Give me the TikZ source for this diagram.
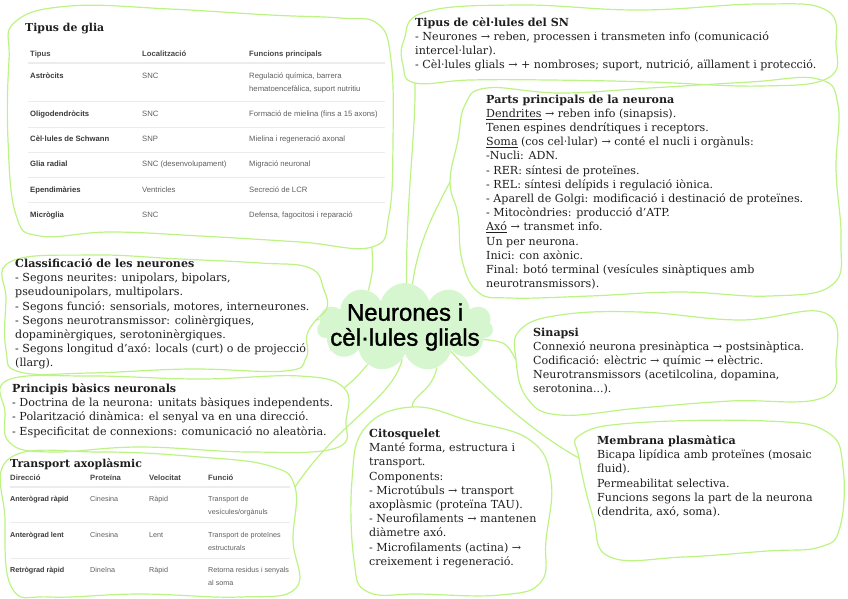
\documentclass[tikz,border=0pt]{standalone}
\usepackage{fontspec}
\setmainfont{DejaVu Serif}
\newfontfamily\tablefont{Liberation Sans}
\newfontfamily\centrefont{Liberation Sans}[FakeBold=1.3]
\usetikzlibrary{shapes.symbols}

\definecolor{blobgreen}{RGB}{188,243,132}
\definecolor{cloudgreen}{RGB}{214,246,208}
\definecolor{inkgray}{RGB}{30,30,30}
\definecolor{cellgray}{RGB}{95,95,95}
\definecolor{headgray}{RGB}{70,70,70}
\definecolor{rulegray}{RGB}{236,236,236}

\begin{document}
\begin{tikzpicture}[x=1pt,y=-1pt,
    blob/.style={draw=blobgreen, line width=1.2pt, line join=round},
    link/.style={draw=blobgreen, line width=1.2pt},
    % multi-line nodes sit on the baseline of their last line
    panel/.style={anchor=base west, inner sep=0pt, align=left, text=inkgray,
      font=\fontsize{11.1}{14.2}\selectfont},
    tabtitle/.style={anchor=base west, inner sep=0pt, text=inkgray,
      font=\bfseries\fontsize{10.9}{13}\selectfont},
    tabhead/.style={anchor=base west, inner sep=0pt, text=headgray,
      font=\tablefont\bfseries\fontsize{7.7}{13}\selectfont},
    rowhead/.style={anchor=base west, inner sep=0pt, text=headgray!80!black,
      font=\tablefont\bfseries\fontsize{7.7}{13}\selectfont},
    cell/.style={anchor=base west, inner sep=0pt, align=left, text=cellgray,
      font=\tablefont\fontsize{7.7}{13}\selectfont},
    headrule/.style={draw=rulegray, line width=1.6pt},
    rowrule/.style={draw=rulegray, line width=0.6pt}
  ]
\useasboundingbox (0,0) rectangle (848,598);

% central idea
\node[cloud, cloud puffs=11, cloud ignores aspect, fill=cloudgreen,
  minimum width=176pt, minimum height=88pt, inner sep=0pt] (centre) at (405,327) {};
\node[align=center, inner sep=0pt, font=\centrefont\fontsize{24}{25}\selectfont]
  (title) at (405,327) {Neurones i\\cèl·lules glials};

% ends of the connectors on the blobs
\coordinate (glia-end) at (372,247);
\coordinate (sn-end) at (415,83);
\coordinate (parts-end) at (450,182);
\coordinate (classif-end) at (316,320);
\coordinate (principis-end) at (344,388);
\coordinate (transport-end) at (295,487);
\coordinate (cito-end) at (412,407);
\coordinate (sinapsi-end) at (516,360);
\coordinate (membrana-end) at (579,458);

% blobs
\draw[blob] plot[smooth cycle, tension=0.7] coordinates {(15,22) (70,6) (170,9) (270,15)
  (340,18) (378,24) (391,60) (393,140) (389,215) (glia-end) (300,242) (200,236)
  (110,232) (40,236) (16,215) (8,140) (9,60)};
\draw[blob] plot[smooth cycle, tension=0.7] coordinates {(404,40) (425,12) (520,5)
  (640,10) (760,4) (826,10) (836,45) (828,78) (760,86) (650,82) (550,80) (470,80)
  (sn-end) (403,65)};
\draw[blob] plot[smooth cycle, tension=0.7] coordinates {(487,88) (560,93) (650,88)
  (750,82) (818,79) (838,105) (836,170) (841,240) (832,285) (770,296) (680,292)
  (590,296) (510,298) (478,292) (462,260) (458,215) (parts-end) (458,140) (465,105)};
\draw[blob] plot[smooth cycle, tension=0.7] coordinates {(10,262) (90,255) (180,259)
  (260,263) (310,268) (324,290) (327,308) (classif-end) (307,335) (306,358) (285,371)
  (190,369) (90,373) (20,372) (6,350) (6,300)};
\draw[blob] plot[smooth cycle, tension=0.7] coordinates {(8,380) (90,376) (200,379)
  (300,376) (principis-end) (346,420) (336,448) (250,452) (140,447) (50,452) (10,443)
  (5,412)};
\draw[blob] plot[smooth cycle, tension=0.7] coordinates {(10,458) (100,452) (200,457)
  (270,466) (transport-end) (293,540) (296,588) (240,597) (140,594) (50,597) (12,588)
  (5,520)};
\draw[blob] plot[smooth cycle, tension=0.7] coordinates {(365,428) (cito-end) (470,421)
  (530,440) (551,480) (546,540) (541,582) (500,595) (420,594) (368,592) (354,560)
  (352,480)};
\draw[blob] plot[smooth cycle, tension=0.7] coordinates {(520,330) (560,315) (640,312)
  (740,320) (825,313) (836,360) (822,398) (730,401) (640,408) (560,415) (527,398)
  (sinapsi-end)};
\draw[blob] plot[smooth cycle, tension=0.7] coordinates {(580,435) (633,423) (767,421)
  (827,432) (843,467) (840,527) (820,547) (767,551) (683,557) (610,557) (593,517)
  (membrana-end)};

% connectors
\draw[link] (centre.135) .. controls (373,270) .. (glia-end);
\draw[link] (centre.88) .. controls (406,200) and (416,130) .. (sn-end);
\draw[link] (centre.80) .. controls (418,240) and (438,205) .. (parts-end);
\draw[link] (centre.175) -- (classif-end);
\draw[link] (centre.225) .. controls (356,378) .. (principis-end);
\draw[link] (centre.265) .. controls (392,400) and (340,420) .. (transport-end);
\draw[link] (centre.308) .. controls (432,392) and (412,395) .. (cito-end);
\draw[link] (centre.351) .. controls (506,342) .. (sinapsi-end);
\draw[link] (centre.332) .. controls (495,400) and (545,440) .. (membrana-end);

% Tipus de glia
\node[tabtitle] (glia) at (25,31) {Tipus de glia};
\node[tabhead] (glia-h1) at (30,56) {Tipus};
\node[tabhead] (glia-h2) at (142,56) {Localització};
\node[tabhead] (glia-h3) at (249,56) {Funcions principals};
\draw[headrule] (28,63) -- (385,63);
\foreach \n/\y/\yy/\tip/\loc/\fun in {
    1/78.5/91.5/Astròcits/SNC/{Regulació química, barrera\\hematoencefàlica, suport nutritiu},
    2/116.5/116.5/Oligodendròcits/SNC/{Formació de mielina (fins a 15 axons)},
    3/141.5/141.5/Cèl·lules de Schwann/SNP/{Mielina i regeneració axonal},
    4/166.5/166.5/Glia radial/SNC (desenvolupament)/{Migració neuronal},
    5/192.5/192.5/Ependimàries/Ventricles/{Secreció de LCR},
    6/217.5/217.5/Micròglia/SNC/{Defensa, fagocitosi i reparació}}{
  \node[rowhead] (glia-t\n) at (30,\y) {\tip};
  \node[cell] (glia-l\n) at (142,\y) {\loc};
  \node[cell] (glia-f\n) at (249,\yy) {\fun};
}
\foreach \y in {101,127,152,177,202}
  \draw[rowrule] (28,\y) -- (385,\y);

% Transport axoplasmic
\node[tabtitle] (transport) at (10,467) {Transport axoplàsmic};
\node[tabhead] (tr-h1) at (10,480) {Direcció};
\node[tabhead] (tr-h2) at (90,480) {Proteïna};
\node[tabhead] (tr-h3) at (149,480) {Velocitat};
\node[tabhead] (tr-h4) at (208,480) {Funció};
\draw[headrule] (10,487) -- (290,487);
\foreach \n/\y/\dir/\prot/\vel/\fun in {
    1/501/Anterògrad ràpid/Cinesina/Ràpid/{Transport de\\vesícules/orgànuls},
    2/537/Anterògrad lent/Cinesina/Lent/{Transport de proteïnes\\estructurals},
    3/572/Retrògrad ràpid/Dineïna/Ràpid/{Retorna residus i senyals\\al soma}}{
  \node[rowhead, font=\tablefont\bfseries\fontsize{7.2}{13.5}\selectfont] (tr-d\n) at (10,\y) {\dir};
  \node[cell, font=\tablefont\fontsize{7.2}{13.5}\selectfont] (tr-p\n) at (90,\y) {\prot};
  \node[cell, font=\tablefont\fontsize{7.2}{13.5}\selectfont] (tr-v\n) at (149,\y) {\vel};
  \node[cell, font=\tablefont\fontsize{7.2}{13.5}\selectfont] (tr-f\n) at (208,\y+13.5) {\fun};
}
\foreach \y in {522,558}
  \draw[rowrule] (10,\y) -- (290,\y);

% text panels (placed by the baseline of their last line)
\node[panel] (tipussn) at (415,68.6) {\textbf{Tipus de cèl·lules del SN}\\
  - Neurones → reben, processen i transmeten info (comunicació\\
  intercel·lular).\\
  - Cèl·lules glials → + nombroses; suport, nutrició, aïllament i protecció.};

\node[panel] (parts) at (486,287.6) {\textbf{Parts principals de la neurona}\\
  \underline{Dendrites} → reben info (sinapsis).\\
  Tenen espines dendrítiques i receptors.\\
  \underline{Soma} (cos cel·lular) → conté el nucli i orgànuls:\\
  -Nucli: ADN.\\
  - RER: síntesi de proteïnes.\\
  - REL: síntesi delípids i regulació iònica.\\
  - Aparell de Golgi: modificació i destinació de proteïnes.\\
  - Mitocòndries: producció d’ATP.\\
  \underline{Axó} → transmet info.\\
  Un per neurona.\\
  Inici: con axònic.\\
  Final: botó terminal (vesícules sinàptiques amb\\
  neurotransmissors).};

\node[panel] (classif) at (15,366.9) {\textbf{Classificació de les neurones}\\
  - Segons neurites: unipolars, bipolars,\\
  pseudounipolars, multipolars.\\
  - Segons funció: sensorials, motores, interneurones.\\
  - Segons neurotransmissor: colinèrgiques,\\
  dopaminèrgiques, serotoninèrgiques.\\
  - Segons longitud d’axó: locals (curt) o de projecció\\
  (llarg).};

\node[panel] (principis) at (12,435.1) {\textbf{Principis bàsics neuronals}\\
  - Doctrina de la neurona: unitats bàsiques independents.\\
  - Polarització dinàmica: el senyal va en una direcció.\\
  - Especificitat de connexions: comunicació no aleatòria.};

\node[panel] (cito) at (369,565.3) {\textbf{Citosquelet}\\
  Manté forma, estructura i\\
  transport.\\
  Components:\\
  - Microtúbuls → transport\\
  axoplàsmic (proteïna TAU).\\
  - Neurofilaments → mantenen\\
  diàmetre axó.\\
  - Microfilaments (actina) →\\
  creixement i regeneració.};

\node[panel] (sinapsi) at (533,392.8) {\textbf{Sinapsi}\\
  Connexió neurona presinàptica → postsinàptica.\\
  Codificació: elèctric → químic → elèctric.\\
  Neurotransmissors (acetilcolina, dopamina,\\
  serotonina...).};

\node[panel] (membrana) at (597,515.5) {\textbf{Membrana plasmàtica}\\
  Bicapa lipídica amb proteïnes (mosaic\\
  fluid).\\
  Permeabilitat selectiva.\\
  Funcions segons la part de la neurona\\
  (dendrita, axó, soma).};
\end{tikzpicture}
\end{document}
